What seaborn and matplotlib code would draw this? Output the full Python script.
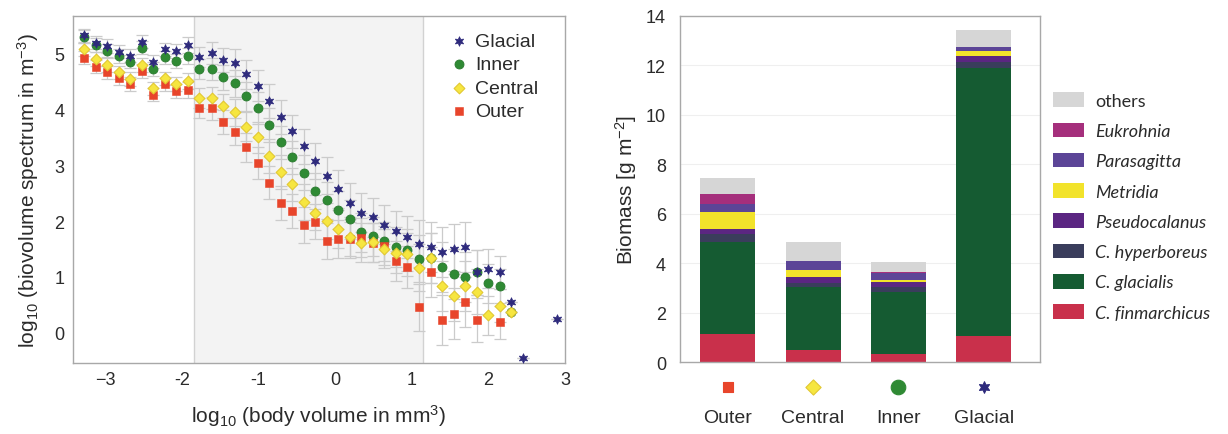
import numpy as np
import matplotlib
matplotlib.use("Agg")
import matplotlib.pyplot as plt
from matplotlib.patches import Patch
import seaborn as sns

# ---------------- data: left panel (biovolume spectra) ----------------
nan = np.nan
body_volume = [-3.27, -3.12, -2.97, -2.82, -2.67, -2.52, -2.37, -2.22, -2.07, -1.92,
               -1.77, -1.61, -1.46, -1.31, -1.16, -1.01, -0.86, -0.71, -0.56, -0.41,
               -0.26, -0.11, 0.04, 0.19, 0.34, 0.49, 0.64, 0.79, 0.94, 1.09,
               1.25, 1.40, 1.55, 1.70, 1.85, 2.00, 2.15, 2.30, 2.45, 2.60,
               2.75, 2.90]
glacial = [5.33, 5.20, 5.14, 5.04, 4.97, 5.22, 4.86, 5.08, 5.05, 5.16,
           4.94, 5.02, 4.89, 4.84, 4.63, 4.43, 4.15, 3.87, 3.61, 3.34,
           3.08, 2.81, 2.58, 2.33, 2.15, 2.07, 1.93, 1.82, 1.71, 1.59,
           1.53, 1.45, 1.50, 1.54, 1.08, 1.14, 1.08, 0.55, -0.46, nan,
           nan, 0.25]
inner = [5.31, 5.16, 5.06, 4.96, 4.86, 5.11, 4.73, 4.94, 4.87, 4.96,
         4.72, 4.73, 4.58, 4.47, 4.24, 4.03, 3.72, 3.41, 3.14, 2.87,
         2.54, 2.37, 2.19, 2.03, 1.80, 1.73, 1.64, 1.54, 1.48, 1.32,
         1.34, 1.18, 1.05, 1.00, 1.08, 0.88, 0.83, 0.37, nan, nan,
         nan, nan]
central = [5.08, 4.91, 4.80, 4.67, 4.55, 4.80, 4.38, 4.56, 4.46, 4.51,
           4.21, 4.21, 4.06, 3.95, 3.69, 3.50, 3.17, 2.88, 2.66, 2.34,
           2.15, 2.00, 1.85, 1.72, 1.61, 1.62, 1.50, 1.42, 1.40, 1.16,
           1.34, 0.83, 0.66, 0.83, 0.73, 0.31, 0.48, 0.37, nan, nan,
           nan, nan]
outer = [4.93, 4.77, 4.67, 4.56, 4.46, 4.69, 4.27, 4.45, 4.33, 4.35,
         4.02, 4.02, 3.78, 3.60, 3.32, 3.04, 2.69, 2.32, 2.18, 1.93,
         1.99, 1.64, 1.67, 1.68, 1.70, 1.61, 1.56, 1.29, 1.17, 0.45,
         1.08, 0.22, 0.34, 0.54, 0.22, nan, 0.18, nan, nan, nan,
         nan, nan]
spread = [0.12, 0.12, 0.12, 0.12, 0.12, 0.12, 0.12, 0.12, 0.13, 0.14,
          0.18, 0.20, 0.22, 0.24, 0.26, 0.28, 0.30, 0.30, 0.30, 0.32,
          0.32, 0.33, 0.34, 0.35, 0.35, 0.35, 0.35, 0.36, 0.38, 0.42,
          0.45, 0.45, 0.45, 0.45, 0.40, 0.35, 0.30, 0.0, 0.0, 0.0,
          0.0, 0.0]
shaded_range = [-1.84, 1.15]

# ---------------- data: right panel (biomass) ----------------
regions = ["Outer", "Central", "Inner", "Glacial"]
taxa = ["C. finmarchicus", "C. glacialis", "C. hyperboreus", "Pseudocalanus",
        "Metridia", "Parasagitta", "Eukrohnia", "others"]
c_finmarchicus = [1.14, 0.50, 0.34, 1.05]
c_glacialis = [3.71, 2.53, 2.49, 10.82]
c_hyperboreus = [0.33, 0.16, 0.20, 0.27]
pseudocalanus = [0.20, 0.24, 0.20, 0.24]
metridia = [0.68, 0.27, 0.10, 0.18]
parasagitta = [0.33, 0.37, 0.28, 0.16]
eukrohnia = [0.41, 0.00, 0.02, 0.00]
others = [0.64, 0.78, 0.40, 0.71]

taxa_colors = ["#c9304b", "#155b32", "#3a3d5c", "#5b2682",
               "#f2e32b", "#5c4597", "#a52f7c", "#d6d6d6"]

# ---------------- styling ----------------
sns.set_theme(style="white")
plt.rcParams["font.family"] = ["Liberation Sans", "DejaVu Sans"]
plt.rcParams["mathtext.default"] = "regular"
txt = "#2b2b2b"
spine_c = "#a8a8a8"

fig = plt.figure(figsize=(12.28, 4.35), dpi=100)
ax1 = fig.add_axes([0.0594, 0.163, 0.4006, 0.798])
ax2 = fig.add_axes([0.5537, 0.1655, 0.2932, 0.796])

# ---------- left panel ----------
ax1.axvspan(shaded_range[0], shaded_range[1], color="#f3f3f3", zorder=0, lw=0)
for xv in shaded_range:
    ax1.axvline(xv, color="#d2d2d2", lw=1.0, zorder=0.5)

series = [
    ("Inner", inner, dict(marker="o", s=42, color="#2f8a34", edgecolor="#2a7a2f", linewidth=0.6)),
    ("Outer", outer, dict(marker="s", s=30, color="#e8452b", edgecolor="#e8452b", linewidth=0.4)),
    ("Central", central, dict(marker="D", s=30, color="#f6e640", edgecolor="#e2c832", linewidth=0.8)),
    ("Glacial", glacial, dict(marker=(6, 1, 0), s=48, color="#2e2a7c", edgecolor="#2e2a7c", linewidth=0.5)),
]
for name, vals, kw in series:
    ax1.errorbar(body_volume, vals, yerr=spread, fmt="none", ecolor="#cbcbcb",
                 elinewidth=0.9, capsize=4, capthick=0.9, zorder=1)
for name, vals, kw in series:
    sns.scatterplot(x=body_volume, y=vals, ax=ax1, label=name, zorder=3, **kw)

ax1.set_xlim(-3.42, 3.0)
ax1.set_ylim(-0.55, 5.68)
ax1.set_xticks([-3, -2, -1, 0, 1, 2, 3])
ax1.set_yticks([0, 1, 2, 3, 4, 5])
ax1.set_xticklabels(["\u22123", "-2", "-1", "0", "1", "2", "3"])
ax1.tick_params(direction="in", length=5, color=spine_c, labelsize=13,
                labelcolor=txt, pad=6)
for sp in ax1.spines.values():
    sp.set_color(spine_c)
    sp.set_linewidth(1.0)
ax1.set_xlabel("log$_{10}$ (body volume in mm$^{3}$)", fontsize=15, color=txt, labelpad=10)
ax1.set_ylabel("log$_{10}$ (biovolume spectrum in m$^{-3}$)", fontsize=15, color=txt, labelpad=10)

h, l = ax1.get_legend_handles_labels()
order = ["Glacial", "Inner", "Central", "Outer"]
hd = dict(zip(l, h))
ax1.legend([hd[o] for o in order], order, loc="upper left", bbox_to_anchor=(0.75, 0.975),
           frameon=False, fontsize=14, labelspacing=0.3, handlelength=1.0,
           handletextpad=0.3, borderaxespad=0, labelcolor=txt)

# ---------- right panel ----------
layers = np.vstack([c_finmarchicus, c_glacialis, c_hyperboreus, pseudocalanus,
                    metridia, parasagitta, eukrohnia, others])
cum = np.cumsum(layers, axis=0)
ax2.yaxis.grid(True, color="#efefef", lw=0.8)
ax2.set_axisbelow(True)
for i in reversed(range(len(taxa))):
    sns.barplot(x=regions, y=cum[i], order=regions, color=taxa_colors[i], width=0.645,
                saturation=1, linewidth=0, ax=ax2, zorder=2)

ax2.set_xlim(-0.56, 3.66)
ax2.set_ylim(0, 14)
ax2.set_yticks(range(0, 15, 2))
ax2.tick_params(axis="y", direction="in", length=3, color=spine_c, labelsize=13,
                labelcolor=txt, pad=10)
ax2.tick_params(axis="x", length=0, labelsize=14, labelcolor=txt, pad=34)
for sp in ax2.spines.values():
    sp.set_color(spine_c)
    sp.set_linewidth(1.0)
ax2.set_xlabel("")
ax2.set_ylabel("Biomass [g m$^{-2}$]", fontsize=15, color=txt, labelpad=5)

region_markers = [("s", "#e8452b", "#e8452b", 60), ("D", "#f6e640", "#e2c832", 60),
                  ("o", "#2f8a34", "#2f8a34", 110), ((6, 1, 0), "#2e2a7c", "#2e2a7c", 70)]
xt = ax2.get_xaxis_transform()
for pos, (m, fc, ec, s) in zip(range(len(regions)), region_markers):
    ax2.scatter([pos], [-0.072], marker=m, s=s, color=fc, edgecolors=ec, linewidths=0.8,
                transform=xt, clip_on=False, zorder=5)

handles = [Patch(facecolor=taxa_colors[i], edgecolor="none") for i in reversed(range(len(taxa)))]
labels = list(reversed(taxa))
leg = ax2.legend(handles, labels, loc="upper left", bbox_to_anchor=(1.017, 0.80),
                 frameon=False, prop={"family": "Lato", "size": 13}, labelspacing=0.76,
                 handlelength=1.72, handleheight=0.87, handletextpad=0.6, borderaxespad=0)
for t in leg.get_texts():
    t.set_color(txt)
    if t.get_text() != "others":
        t.set_fontstyle("italic")

fig.savefig("out.png", dpi=100)
